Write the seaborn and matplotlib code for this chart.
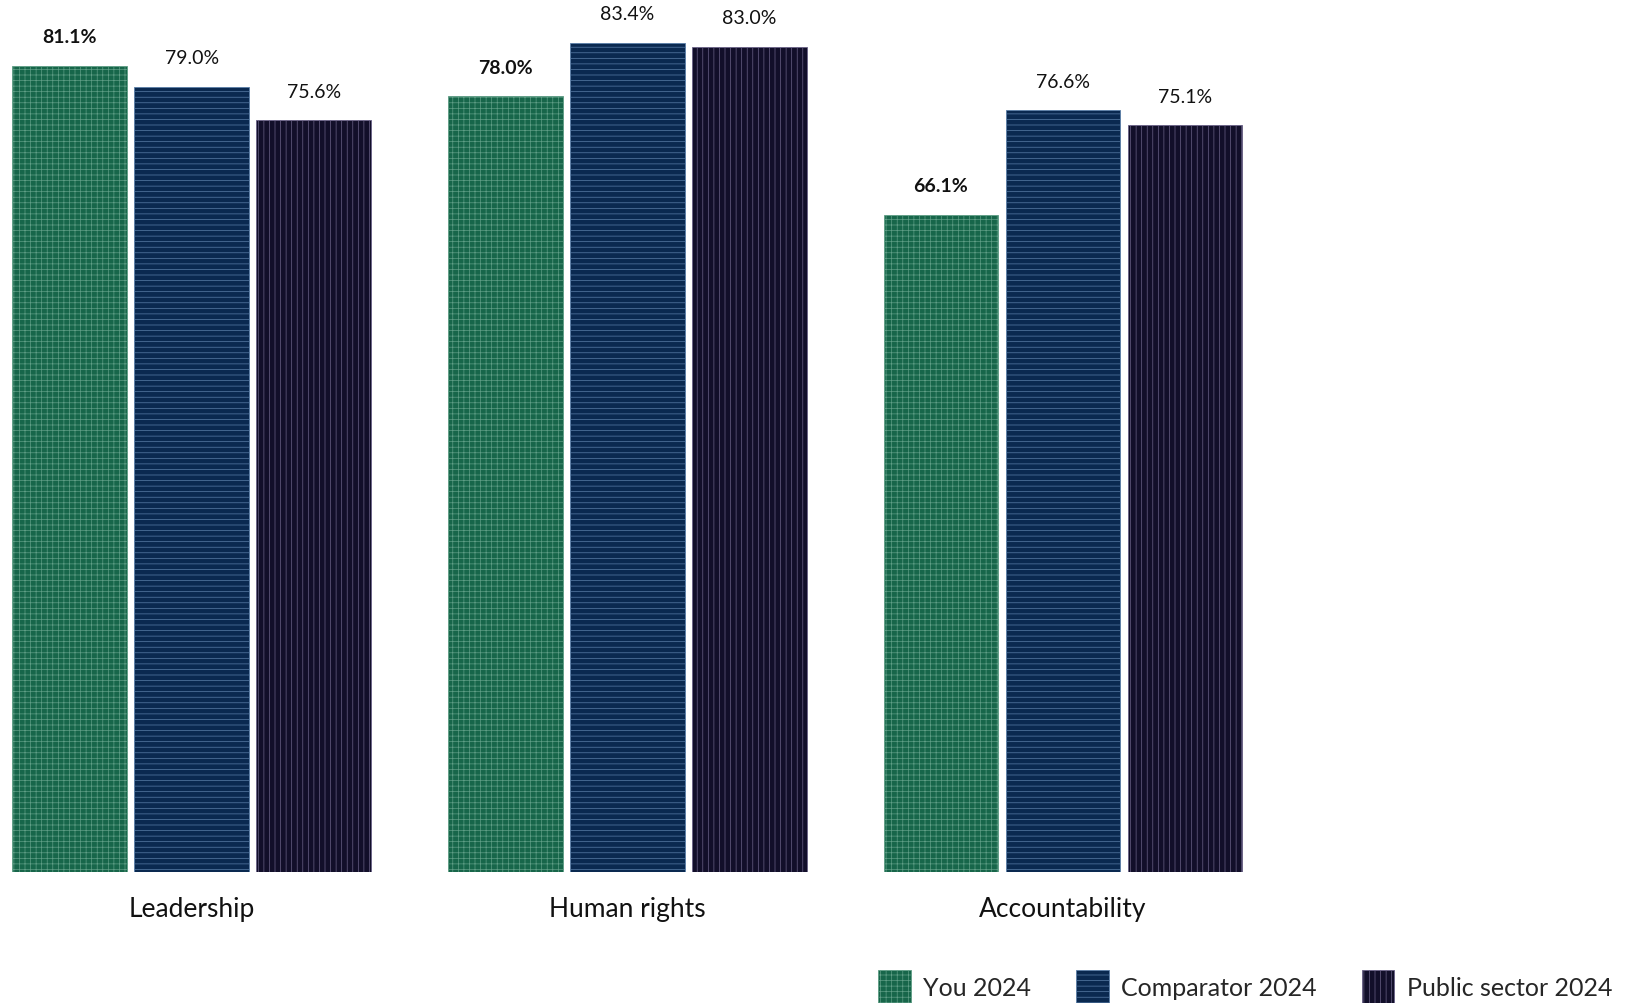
import pandas as pd
import matplotlib.pyplot as plt
import seaborn as sns

# Chart values
categories = ['Leadership', 'Human rights', 'Accountability']
series = ['You 2024', 'Comparator 2024', 'Public sector 2024']
you_2024 = [81.1, 78.0, 66.1]
comparator_2024 = [79.0, 83.4, 76.6]
public_sector_2024 = [75.6, 83.0, 75.1]

data = pd.DataFrame({
    'category': categories * 3,
    'series': [series[0]] * 3 + [series[1]] * 3 + [series[2]] * 3,
    'value': you_2024 + comparator_2024 + public_sector_2024,
})

fills = ['#17664a', '#0a2950', '#120f2a']
hatch_cols = ['#5f9e86', '#5a7ea8', '#6a6287']
hatches = ['+++', '---', '|||']

sns.set_style('white')
plt.rcParams['font.family'] = ['Lato', 'DejaVu Sans']
plt.rcParams['hatch.linewidth'] = 0.5

fig = plt.figure(figsize=(16.38, 10.04), dpi=100)
ax = fig.add_axes([0, 0.13, 1, 0.87])

sns.barplot(data=data, x='category', y='value', hue='series',
            palette=fills, width=0.84, gap=0.06, ax=ax, legend=False,
            saturation=1)

for i, cont in enumerate(ax.containers):
    for bar in cont:
        bar.set_hatch(hatches[i])
        bar.set_edgecolor(hatch_cols[i])
        bar.set_linewidth(0.6)
    labels = [f'{v:.1f}%' for v in cont.datavalues]
    ax.bar_label(cont, labels=labels, padding=15, fontsize=14,
                 fontweight='bold' if i == 0 else 'normal',
                 color='#111111', clip_on=False)

ax.set_xlim(-0.44, 3.32)
ax.set_ylim(0, 87.8)
ax.set_xlabel('')
ax.set_ylabel('')
ax.set_yticks([])
ax.tick_params(axis='x', length=0, pad=17, labelsize=19, labelcolor='#111111')
sns.despine(ax=ax, left=True, bottom=True)

handles = [plt.Rectangle((0, 0), 1, 1, facecolor=fills[i], edgecolor=hatch_cols[i],
                         hatch=hatches[i], linewidth=0.6) for i in range(3)]
fig.legend(handles, series, loc='lower right', bbox_to_anchor=(0.998, -0.022),
           ncol=3, frameon=False, fontsize=18, handlelength=1.3, handleheight=1.6,
           handletextpad=0.5, columnspacing=1.8)

fig.savefig('out.png', dpi=100)
